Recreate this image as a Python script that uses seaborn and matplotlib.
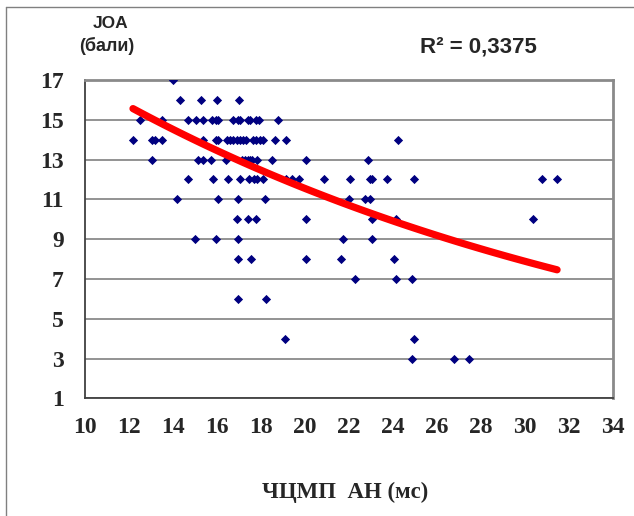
import numpy as np
import pandas as pd
import matplotlib
matplotlib.use("Agg")
import matplotlib.pyplot as plt
import seaborn as sns
from matplotlib.lines import Line2D

# JOA score (y) -> ЧЦМП АН values (x)
row_17 = [14.0]
row_16 = [14.35, 15.3, 16.0, 17.0]
row_15 = [12.5, 13.5, 14.7, 15.05, 15.4, 15.8, 15.95, 16.05, 16.75, 16.95,
          17.05, 17.4, 17.5, 17.8, 17.9, 18.8]
row_14 = [12.2, 13.05, 13.2, 13.5, 15.4, 15.95, 16.05, 16.45, 16.6, 16.75,
          16.9, 17.05, 17.2, 17.35, 17.65, 17.8, 17.95, 18.1, 18.65, 19.15, 24.25]
row_13 = [13.05, 15.15, 15.4, 15.75, 16.4, 17.15, 17.3, 17.4, 17.5, 17.6,
          17.85, 18.5, 20.05, 22.85]
row_12 = [14.7, 15.85, 16.5, 17.05, 17.45, 17.7, 17.85, 18.1, 19.15, 19.4,
          19.75, 20.85, 22.05, 22.95, 23.05, 23.75, 24.95, 30.75, 31.45]
row_11 = [14.2, 16.05, 16.95, 18.2, 22.0, 22.75, 22.95]
row_10 = [16.9, 17.4, 17.8, 20.05, 23.05, 24.15, 30.35]
row_9 = [15.0, 15.95, 16.95, 21.75, 23.05]
row_8 = [16.95, 17.55, 20.05, 21.65, 24.05]
row_7 = [22.3, 24.15, 24.85]
row_6 = [16.95, 18.25]
row_4 = [19.1, 24.95]
row_3 = [24.85, 26.75, 27.45]

rows = {17: row_17, 16: row_16, 15: row_15, 14: row_14, 13: row_13, 12: row_12,
        11: row_11, 10: row_10, 9: row_9, 8: row_8, 7: row_7, 6: row_6,
        4: row_4, 3: row_3}

x_ticks = list(range(10, 35, 2))
y_ticks = list(range(1, 18, 2))
r2_text = "R² = 0,3375"

# exponential trendline y = a * exp(b * x), coefficients
trend_a = 24.8
trend_b = -0.0382

df = pd.DataFrame([(x, y) for y, xs in rows.items() for x in xs], columns=["cmct", "joa"])

trend = pd.DataFrame({"cmct": np.linspace(df["cmct"].min(), df["cmct"].max(), 100)})
trend["joa"] = trend_a * np.exp(trend_b * trend["cmct"])

sns.set_style("white")
plt.rcParams["font.family"] = ["Liberation Serif", "DejaVu Serif"]

fig = plt.figure(figsize=(6.34, 5.16), dpi=100)
ax = fig.add_axes([0.1333, 0.2281, 0.834, 0.6169])

sns.scatterplot(data=df, x="cmct", y="joa", marker="D", s=22, color="#000080",
                linewidth=0, ax=ax, zorder=3)
sns.lineplot(data=trend, x="cmct", y="joa", color="#ff0000", linewidth=5.2,
             ax=ax, zorder=4, solid_capstyle="round")

ax.set_xlim(10, 34)
ax.set_ylim(1, 17)
ax.set_xticks(x_ticks)
ax.set_yticks(y_ticks)
ax.set_xlabel("")
ax.set_ylabel("")
ax.grid(axis="y", color="#808080", linewidth=1.2)
ax.grid(axis="x", visible=False)
ax.set_axisbelow(True)

for side in ["top", "right"]:
    ax.spines[side].set_color("#8a8a8a")
    ax.spines[side].set_linewidth(2)
for side in ["left", "bottom"]:
    ax.spines[side].set_color("#404040")
    ax.spines[side].set_linewidth(1.3)

ax.tick_params(axis="x", direction="inout", length=9.5, width=1, color="#404040",
               pad=9, labelsize=17)
ax.tick_params(axis="y", direction="out", length=6, width=1, color="#404040",
               pad=9, labelsize=17)
for lab in ax.get_xticklabels() + ax.get_yticklabels():
    lab.set_fontweight("bold")

sans = ["Liberation Sans", "DejaVu Sans"]
fig.text(111 / 634, 1 - 24 / 516, "JOA", family=sans, fontsize=12.5,
         fontweight="bold", ha="center", va="center")
fig.text(107 / 634, 1 - 46 / 516, "(бали)", family=sans, fontsize=13,
         fontweight="bold", ha="center", va="center")
fig.text(478 / 634, 1 - 47 / 516, r2_text, family=sans, fontsize=16,
         fontweight="bold", ha="center", va="center")
fig.text(345 / 634, 1 - 492 / 516, "ЧЦМП  АН (мс)", fontsize=16.5,
         fontweight="bold", ha="center", va="center")

# outer frame (top and left edges only)
fig.add_artist(Line2D([6 / 634, 1], [1 - 7 / 516, 1 - 7 / 516], color="#808080",
                      linewidth=1, transform=fig.transFigure))
fig.add_artist(Line2D([6 / 634, 6 / 634], [0, 1 - 7 / 516], color="#808080",
                      linewidth=1, transform=fig.transFigure))

fig.savefig("out.png", dpi=100)
